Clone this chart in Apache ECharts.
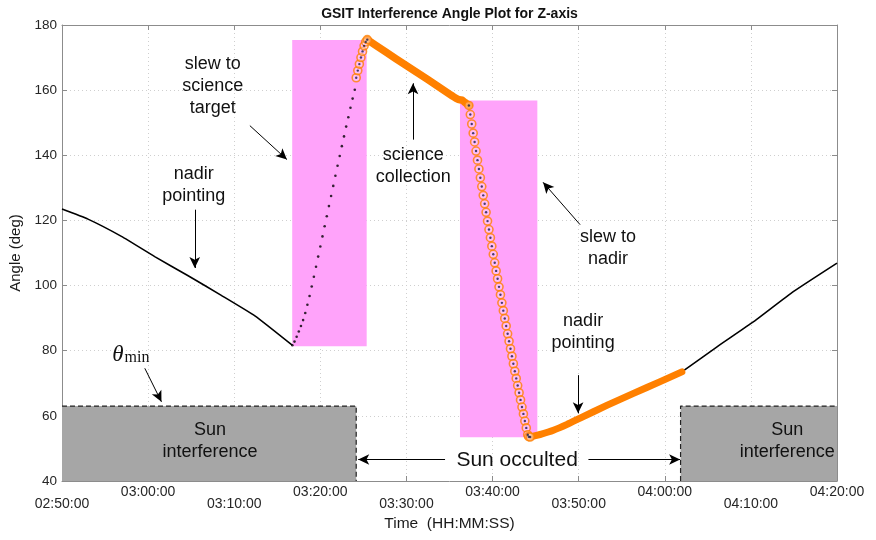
<!DOCTYPE html>
<html><head><meta charset="utf-8">
<script src="https://cdn.jsdelivr.net/npm/echarts@6/dist/echarts.min.js"></script>
<style>html,body{margin:0;padding:0;background:#fff}#c{width:876px;height:540px}</style>
</head><body><div id="c"></div>
<script>
// ---- data (time in seconds of day, angle in degrees) ----
const xTickLabels = ['02:50:00','03:00:00','03:10:00','03:20:00','03:30:00','03:40:00','03:50:00','04:00:00','04:10:00','04:20:00'];
const xMin = 10200, xMax = 15600, xStep = 600;
const yMin = 40, yMax = 180, yStep = 20;
const titleText = 'GSIT Interference Angle Plot for Z-axis';
const xName = 'Time  (HH:MM:SS)';
const yName = 'Angle (deg)';

const nadirBefore = [[10200,123.5],[10381,120.4],[10614,115.1],[10846,108.9],[11079,103.0],[11310,97.0],[11544,90.7],[11804,81.7]];
const slewToTarget = [[11805,81.7],[11820,82.8],[11835,84.3],[11850,85.9],[11865,87.6],[11880,89.4],[11895,91.6],[11910,94.1],[11925,96.8],[11940,99.7],[11955,102.7],[11970,105.8],[11985,108.9],[12000,112.0],[12015,115.1],[12030,118.2],[12045,121.3],[12060,124.4],[12075,127.5],[12090,130.6],[12105,133.7],[12120,136.8],[12135,139.8],[12150,142.8],[12165,145.8],[12180,148.8],[12195,151.7],[12210,154.6],[12225,157.4],[12240,160.1]];
const slewToTargetTracked = [[12250,163.8],[12261,166.0],[12272,168.0],[12283,170.0],[12294,171.9],[12305,173.6],[12316,174.8],[12327,175.5]];
const scienceCollection = [[12327,175.5],[12450,171.9],[12600,167.5],[12750,163.2],[12900,158.8],[12955,157.3],[12975,157.0],[12990,156.9],[13005,156.3],[13020,155.8],[13035,155.3]];
const slewToNadir = [[13035,155.3],[13045,152.5],[13055,149.6],[13065,146.8],[13075,144.1],[13085,141.3],[13095,138.5],[13105,135.8],[13115,133.1],[13125,130.4],[13135,127.7],[13145,125.1],[13155,122.5],[13165,119.8],[13175,117.2],[13185,114.7],[13195,112.1],[13205,109.6],[13215,107.0],[13225,104.5],[13235,102.1],[13245,99.6],[13255,97.2],[13265,94.7],[13275,92.3],[13285,89.9],[13295,87.6],[13305,85.2],[13315,82.9],[13325,80.6],[13335,78.3],[13345,76.0],[13355,73.7],[13365,71.5],[13375,69.3],[13385,67.1],[13395,64.9],[13405,62.7],[13415,60.6],[13425,58.4],[13435,56.3],[13445,54.2],[13452,53.6],[13462,53.5]];
const nadirAfterTracked = [[13462,53.5],[13540,54.4],[13624,55.6],[13720,57.4],[13810,59.3],[13996,63.2],[14182,66.9],[14368,70.5],[14519,73.5]];
const nadirAfter = [[14519,73.5],[14764,81.2],[15019,88.9],[15298,98.2],[15600,106.9]];

const sunInterference = [[10200,12250,63.0],[14510,15600,63.0]]; // [start, end, theta_min]
const slewWindows = [[11804,12323,81.4,175.4],[12973,13512,53.4,156.8]]; // [start, end, low, high]

const annotations = [
  {text:'slew to\nscience\ntarget', x:11251, y:161.4},
  {text:'nadir\npointing', x:11118, y:130.8},
  {text:'science\ncollection', x:12648, y:136.8},
  {text:'slew to\nnadir', x:14005, y:111.6},
  {text:'nadir\npointing', x:13831, y:85.6},
  {text:'Sun\ninterference', x:11231, y:52.3},
  {text:'Sun\ninterference', x:15254, y:52.3}
];
const occultedLabel = {text:'Sun occulted', x:13371, y:46.4};
const thetaLabel = {x:10680, y:79.0};
const arrows = [
  [[11125,123.3],[11125,105.4]],
  [[11509,149.1],[11767,138.7]],
  [[12646,144.8],[12646,162.1]],
  [[13810,118.7],[13552,131.7]],
  [[13796,72.5],[13796,60.8]],
  [[10777,74.6],[10893,64.3]],
  [[12869,46.6],[12264,46.6]],
  [[13868,46.6],[14507,46.6]]
];

// ---- chart ----
const FONT = '"Liberation Sans", Arial, Helvetica, sans-serif';
const AX = '#8c8c8c';
const ORANGE = '#ff8000';
const chart = echarts.init(document.getElementById('c'), null, {renderer:'canvas'});

function rectSeries(data, fill, lowIdx, highIdx) {
  return {
    type:'custom', z:1, silent:true,
    data: data,
    encode:{x:[0,1], y:[lowIdx, highIdx]},
    renderItem:(params, api) => {
      const p0 = api.coord([api.value(0), api.value(highIdx)]);
      const p1 = api.coord([api.value(1), api.value(lowIdx)]);
      return {type:'rect', shape:{x:p0[0], y:p0[1], width:p1[0]-p0[0], height:p1[1]-p0[1]}, style:{fill:fill}};
    }
  };
}

const sunFill = sunInterference.map(d => [d[0], d[1], yMin, d[2]]);
const sunEdgeL = [[sunInterference[0][0], sunInterference[0][2]],[sunInterference[0][1], sunInterference[0][2]],[sunInterference[0][1], yMin]];
const sunEdgeR = [[sunInterference[1][0], yMin],[sunInterference[1][0], sunInterference[1][2]],[sunInterference[1][1], sunInterference[1][2]]];

const circlePts = slewToTargetTracked.concat(slewToNadir);

const option = {
  animation:false,
  backgroundColor:'#fff',
  grid:{left:62, right:39, top:25, bottom:59, containLabel:false},
  xAxis:[{
    type:'value', min:xMin, max:xMax, interval:xStep, position:'bottom',
    axisLine:{show:true, onZero:false, lineStyle:{color:AX, width:1}},
    axisTick:{show:true, inside:true, length:5, lineStyle:{color:AX}},
    axisLabel:{margin:5, lineHeight:12, fontSize:14, color:'#262626', fontFamily:FONT,
      formatter:(v) => { const i = Math.round((v - xMin)/xStep); const s = xTickLabels[i] || ''; return i % 2 === 0 ? '\n' + s : s; }},
    splitLine:{show:true, lineStyle:{type:[1,3], color:'#cfcfcf', width:1}},
    name:xName, nameLocation:'middle', nameGap:35,
    nameTextStyle:{fontSize:15.5, color:'#1a1a1a', fontFamily:FONT}
  },{
    type:'value', min:xMin, max:xMax, interval:xStep, position:'top',
    axisLine:{show:true, onZero:false, lineStyle:{color:AX, width:1}},
    axisTick:{show:true, inside:true, length:5, lineStyle:{color:AX}},
    axisLabel:{show:false}, splitLine:{show:false}
  }],
  yAxis:[{
    type:'value', min:yMin, max:yMax, interval:yStep, position:'left',
    axisLine:{show:true, onZero:false, lineStyle:{color:AX, width:1}},
    axisTick:{show:true, inside:true, length:5, lineStyle:{color:AX}},
    axisLabel:{margin:5, fontSize:13.5, color:'#262626', fontFamily:FONT},
    splitLine:{show:true, lineStyle:{type:[1,3], color:'#cfcfcf', width:1}},
    name:yName, nameLocation:'middle', nameGap:33, nameRotate:90,
    nameTextStyle:{fontSize:15, color:'#1a1a1a', fontFamily:FONT}
  },{
    type:'value', min:yMin, max:yMax, interval:yStep, position:'right',
    axisLine:{show:true, onZero:false, lineStyle:{color:AX, width:1}},
    axisTick:{show:true, inside:true, length:5, lineStyle:{color:AX}},
    axisLabel:{show:false}, splitLine:{show:false}
  }],
  series:[
    rectSeries(slewWindows, '#ffa3fa', 2, 3),
    rectSeries(sunFill, '#a6a6a6', 2, 3),
    {type:'line', data:sunEdgeL, symbol:'none', silent:true, z:3, lineStyle:{color:'#222', width:1.2, type:[5,3]}},
    {type:'line', data:sunEdgeR, symbol:'none', silent:true, z:3, lineStyle:{color:'#222', width:1.2, type:[5,3]}},
    {type:'line', data:nadirBefore, symbol:'none', smooth:0.15, silent:true, z:4, lineStyle:{color:'#000', width:1.6}},
    {type:'scatter', data:slewToTarget, symbol:'circle', symbolSize:2.6, silent:true, z:4, itemStyle:{color:'#000'}},
    {type:'line', data:scienceCollection, symbol:'none', smooth:0.1, silent:true, z:5, lineStyle:{color:ORANGE, width:7.5, cap:'round', join:'round'}},
    {type:'line', data:nadirAfterTracked, symbol:'none', smooth:0.15, silent:true, z:5, lineStyle:{color:ORANGE, width:7, cap:'round', join:'round'}},
    {type:'line', data:nadirAfter, symbol:'none', smooth:0.15, silent:true, z:4, lineStyle:{color:'#000', width:1.6}},
    {type:'scatter', data:circlePts, symbol:'circle', symbolSize:8, silent:true, z:6,
      itemStyle:{color:'rgba(255,235,245,0.45)', borderColor:ORANGE, borderWidth:1.6}},
    {type:'scatter', data:circlePts, symbol:'circle', symbolSize:2.4, silent:true, z:7, itemStyle:{color:'#1a1a4a'}},
    {type:'line', data:[], silent:true, z:8,
      markLine:{silent:true, symbol:['none','arrow'], symbolSize:[8,11], label:{show:false},
        lineStyle:{color:'#000', width:1, type:'solid'}, emphasis:{disabled:true},
        data: arrows.map(a => [{coord:a[0]},{coord:a[1]}])}}
  ]
};
chart.setOption(option);

function px(x, y) { return chart.convertToPixel({gridIndex:0}, [x, y]); }
const graphics = [];
const plotMid = px((xMin + xMax)/2, yMax);
graphics.push({type:'text', x:plotMid[0], y:14, z:10, style:{text:titleText, fontSize:14, fontWeight:'bold', fontFamily:FONT, fill:'#111', align:'center', verticalAlign:'middle'}});
annotations.forEach(a => {
  const p = px(a.x, a.y);
  graphics.push({type:'text', x:p[0], y:p[1], z:10, style:{text:a.text, fontSize:18, lineHeight:22, fontFamily:FONT, fill:'#111', align:'center', verticalAlign:'middle'}});
});
{
  const p = px(occultedLabel.x, occultedLabel.y);
  graphics.push({type:'text', x:p[0], y:p[1], z:10, style:{text:occultedLabel.text, fontSize:21, fontFamily:FONT, fill:'#111', align:'center', verticalAlign:'middle'}});
}
{
  const p = px(thetaLabel.x, thetaLabel.y);
  graphics.push({type:'text', x:p[0], y:p[1], z:10, style:{
    text:'{t|θ}{s|min}', align:'center', verticalAlign:'middle',
    rich:{
      t:{fontSize:23, fontStyle:'italic', fontFamily:'"Liberation Serif","DejaVu Serif",serif', fill:'#111', verticalAlign:'bottom'},
      s:{fontSize:16, fontFamily:'"Liberation Serif","DejaVu Serif",serif', fill:'#111', padding:[8,0,0,1], verticalAlign:'bottom'}
    }}});
}
chart.setOption({graphic:{elements:graphics}});
</script>
</body></html>
